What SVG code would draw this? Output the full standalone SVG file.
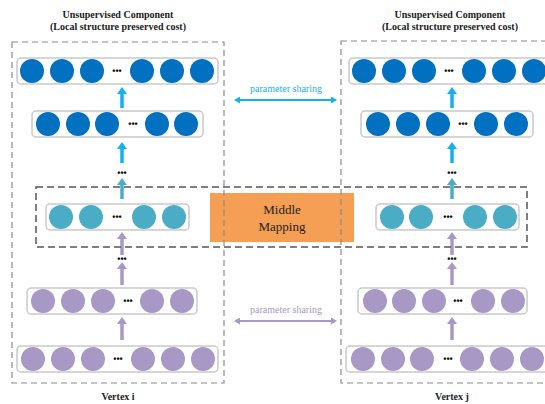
<svg xmlns="http://www.w3.org/2000/svg" width="545" height="404" viewBox="0 0 545 404">
<style>
.title{font-family:"Liberation Serif",serif;font-weight:bold;font-size:10px;fill:#222;text-anchor:middle}
.row{fill:#fff;stroke:#c9c9c9;stroke-width:1.5}
.b{fill:#0070c0}.t{fill:#4bacc6}.p{fill:#a898c6}
.dots{font-family:"Liberation Sans",sans-serif;font-weight:bold;font-size:9px;fill:#111;text-anchor:middle}
.ab{stroke:#14b0f0;stroke-width:3.5;fill:none}
.at{stroke:#4bacc6;stroke-width:3.5;fill:none}
.ap{stroke:#a898c6;stroke-width:3.5;fill:none}
.outer{fill:none;stroke:#8a8a8a;stroke-width:1.2;stroke-dasharray:6 4}
.mid{fill:none;stroke:#555;stroke-width:1.5;stroke-dasharray:7 4}
.ps{font-family:"Liberation Serif",serif;font-size:10px;text-anchor:middle}
</style>
<defs>
<marker id="hb" markerUnits="userSpaceOnUse" viewBox="0 0 7 10" refX="0" refY="5" markerWidth="7" markerHeight="10" orient="auto"><path d="M0,0L7,5L0,10Z" fill="#14b0f0"/></marker>
<marker id="ht" markerUnits="userSpaceOnUse" viewBox="0 0 7 10" refX="0" refY="5" markerWidth="7" markerHeight="10" orient="auto"><path d="M0,0L7,5L0,10Z" fill="#4bacc6"/></marker>
<marker id="hp" markerUnits="userSpaceOnUse" viewBox="0 0 7 10" refX="0" refY="5" markerWidth="7" markerHeight="10" orient="auto"><path d="M0,0L7,5L0,10Z" fill="#a898c6"/></marker>
<marker id="sb" markerUnits="userSpaceOnUse" viewBox="0 0 6 7" refX="1" refY="3.5" markerWidth="6" markerHeight="7" orient="auto-start-reverse"><path d="M0,0L6,3.5L0,7Z" fill="#14b0f0"/></marker>
<marker id="sp" markerUnits="userSpaceOnUse" viewBox="0 0 6 7" refX="1" refY="3.5" markerWidth="6" markerHeight="7" orient="auto-start-reverse"><path d="M0,0L6,3.5L0,7Z" fill="#a898c6"/></marker>
</defs>

<rect width="545" height="404" fill="#fff"/>

<g id="titles">
<text class="title" x="118" y="18">Unsupervised Component</text>
<text class="title" x="118" y="30">(Local structure preserved cost)</text>
<text class="title" x="450" y="18">Unsupervised Component</text>
<text class="title" x="450" y="30">(Local structure preserved cost)</text>
<text class="title" x="118" y="400">Vertex i</text>
<text class="title" x="452" y="400">Vertex j</text>
</g>

<g id="middle-mapping">
<rect x="210" y="193" width="144" height="49" fill="#f59f55"/>
<text x="282" y="214" font-family="Liberation Serif,serif" font-size="13" fill="#222" text-anchor="middle">Middle</text>
<text x="282" y="231" font-family="Liberation Serif,serif" font-size="13" fill="#222" text-anchor="middle">Mapping</text>
</g>

<g id="left-l1">
<rect class="row" x="17" y="58" width="201" height="26" rx="4"/>
<circle class="b" cx="32" cy="71" r="12"/><circle class="b" cx="62" cy="71" r="12"/><circle class="b" cx="92" cy="71" r="12"/>
<text class="dots" x="117" y="74">•••</text>
<circle class="b" cx="142" cy="71" r="12"/><circle class="b" cx="172" cy="71" r="12"/><circle class="b" cx="202" cy="71" r="12"/>
</g>
<g id="left-l2">
<rect class="row" x="32" y="111" width="171" height="26" rx="4"/>
<circle class="b" cx="48" cy="124" r="12"/><circle class="b" cx="78" cy="124" r="12"/><circle class="b" cx="107" cy="124" r="12"/>
<text class="dots" x="133" y="127">•••</text>
<circle class="b" cx="157" cy="124" r="12"/><circle class="b" cx="186" cy="124" r="12"/>
</g>
<g id="left-l3">
<rect class="row" x="46" y="204" width="143" height="26" rx="4"/>
<circle class="t" cx="61" cy="217" r="12"/><circle class="t" cx="91" cy="217" r="12"/>
<text class="dots" x="117" y="220">•••</text>
<circle class="t" cx="144" cy="217" r="12"/><circle class="t" cx="174" cy="217" r="12"/>
</g>
<g id="left-l4">
<rect class="row" x="27" y="288" width="170" height="26" rx="4"/>
<circle class="p" cx="43" cy="301" r="12"/><circle class="p" cx="73" cy="301" r="12"/><circle class="p" cx="103" cy="301" r="12"/>
<text class="dots" x="128" y="304">•••</text>
<circle class="p" cx="152" cy="301" r="12"/><circle class="p" cx="182" cy="301" r="12"/>
</g>
<g id="left-l5">
<rect class="row" x="17" y="346" width="201" height="26" rx="4"/>
<circle class="p" cx="33" cy="359" r="12"/><circle class="p" cx="63" cy="359" r="12"/><circle class="p" cx="93" cy="359" r="12"/>
<text class="dots" x="118" y="362">•••</text>
<circle class="p" cx="143" cy="359" r="12"/><circle class="p" cx="173" cy="359" r="12"/><circle class="p" cx="203" cy="359" r="12"/>
</g>

<g id="right-l1">
<rect class="row" x="349" y="58" width="201" height="26" rx="4"/>
<circle class="b" cx="364" cy="71" r="12"/><circle class="b" cx="394" cy="71" r="12"/><circle class="b" cx="424" cy="71" r="12"/>
<text class="dots" x="449" y="74">•••</text>
<circle class="b" cx="474" cy="71" r="12"/><circle class="b" cx="504" cy="71" r="12"/><circle class="b" cx="534" cy="71" r="12"/>
</g>
<g id="right-l2">
<rect class="row" x="361" y="111" width="172" height="26" rx="4"/>
<circle class="b" cx="378" cy="124" r="12"/><circle class="b" cx="408" cy="124" r="12"/><circle class="b" cx="438" cy="124" r="12"/>
<text class="dots" x="463" y="127">•••</text>
<circle class="b" cx="486" cy="124" r="12"/><circle class="b" cx="516" cy="124" r="12"/>
</g>
<g id="right-l3">
<rect class="row" x="376" y="204" width="143" height="26" rx="4"/>
<circle class="t" cx="392" cy="217" r="12"/><circle class="t" cx="421" cy="217" r="12"/>
<text class="dots" x="448" y="220">•••</text>
<circle class="t" cx="475" cy="217" r="12"/><circle class="t" cx="505" cy="217" r="12"/>
</g>
<g id="right-l4">
<rect class="row" x="358" y="288" width="169" height="26" rx="4"/>
<circle class="p" cx="375" cy="301" r="12"/><circle class="p" cx="404" cy="301" r="12"/><circle class="p" cx="434" cy="301" r="12"/>
<text class="dots" x="458" y="304">•••</text>
<circle class="p" cx="483" cy="301" r="12"/><circle class="p" cx="513" cy="301" r="12"/>
</g>
<g id="right-l5">
<rect class="row" x="346" y="346" width="202" height="26" rx="4"/>
<circle class="p" cx="363" cy="359" r="12"/><circle class="p" cx="393" cy="359" r="12"/><circle class="p" cx="422" cy="359" r="12"/>
<text class="dots" x="448" y="362">•••</text>
<circle class="p" cx="472" cy="359" r="12"/><circle class="p" cx="502" cy="359" r="12"/><circle class="p" cx="532" cy="359" r="12"/>
</g>

<g id="connectors">
<line class="ab" x1="122" y1="108" x2="122" y2="94" marker-end="url(#hb)"/>
<line class="ab" x1="122" y1="163" x2="122" y2="149" marker-end="url(#hb)"/>
<text class="dots" x="122" y="176">•••</text>
<line class="at" x1="122" y1="199" x2="122" y2="185" marker-end="url(#ht)"/>
<line class="ap" x1="122" y1="255" x2="122" y2="239" marker-end="url(#hp)"/>
<text class="dots" x="122" y="262">•••</text>
<line class="ap" x1="122" y1="285" x2="122" y2="269" marker-end="url(#hp)"/>
<line class="ap" x1="122" y1="340" x2="122" y2="324" marker-end="url(#hp)"/>

<line class="ab" x1="452" y1="108" x2="452" y2="94" marker-end="url(#hb)"/>
<line class="ab" x1="452" y1="163" x2="452" y2="149" marker-end="url(#hb)"/>
<text class="dots" x="452" y="176">•••</text>
<line class="at" x1="452" y1="199" x2="452" y2="185" marker-end="url(#ht)"/>
<line class="ap" x1="452" y1="255" x2="452" y2="239" marker-end="url(#hp)"/>
<text class="dots" x="452" y="262">•••</text>
<line class="ap" x1="452" y1="285" x2="452" y2="269" marker-end="url(#hp)"/>
<line class="ap" x1="452" y1="340" x2="452" y2="324" marker-end="url(#hp)"/>

<line x1="239" y1="100" x2="332" y2="100" stroke="#14b0f0" stroke-width="2" marker-start="url(#sb)" marker-end="url(#sb)"/>
<text class="ps" x="286" y="92" fill="#14b0f0">parameter sharing</text>
<line x1="239" y1="321" x2="332" y2="321" stroke="#a898c6" stroke-width="2" marker-start="url(#sp)" marker-end="url(#sp)"/>
<text class="ps" x="286" y="313" fill="#a898c6">parameter sharing</text>
</g>

<g id="groups">
<rect class="outer" x="12" y="42" width="212" height="341"/>
<rect class="outer" x="341" y="41" width="210" height="342"/>
<rect class="mid" x="36" y="187" width="491" height="60"/>
</g>
</svg>
